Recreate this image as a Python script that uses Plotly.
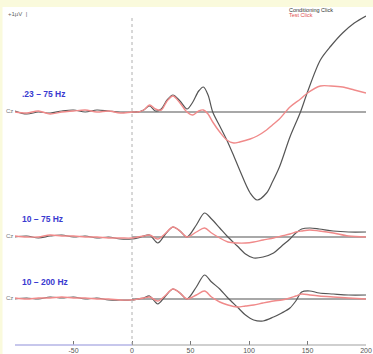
import plotly.graph_objects as go

# ---------------- data (µV, time in ms) ----------------
t_pre = [-100, -90, -80, -70, -60, -50, -40, -30, -20, -10]

t_top = t_pre + [0, 5, 10, 15, 20, 25, 30, 35, 41, 47, 52, 57, 61, 65, 69, 75, 81, 87, 92,
                 101, 107, 115, 120, 126, 135, 144, 150, 161, 170, 180, 190, 200]
cond_top = [0.05, -0.1, 0.0, -0.05, 0.05, 0.1, 0.0, 0.1, 0.05, 0.0,
            0.0, 0.0, 0.1, 0.3, 0.05, 0.15, 0.6, 0.85, 0.55, 0.15, 0.5, 1.05, 1.25, 0.85, 0.0,
            -0.7, -1.4, -2.2, -2.9, -4.05, -4.4, -4.05, -3.5, -2.75, -1.25, 0.0, 1.0, 2.6,
            3.3, 3.95, 4.45, 4.8]
test_top = [0.0, -0.05, 0.05, -0.1, 0.0, 0.05, 0.1, 0.0, 0.05, -0.05,
            0.0, 0.0, 0.1, 0.35, 0.15, 0.1, 0.55, 0.8, 0.45, 0.0, -0.15, 0.05, 0.1, -0.1,
            -0.5, -1.0, -1.4, -1.55, -1.5, -1.35, -1.2, -0.9, -0.65, -0.35, 0.25, 0.65, 0.95,
            1.3, 1.3, 1.25, 1.1, 0.95]

t_low = t_pre + [0, 5, 10, 15, 22, 28, 35, 41, 47, 55, 62, 68, 75, 82, 90, 97, 104, 112, 121,
                 128, 135, 140, 145, 152, 160, 172, 185, 200]
cond_mid = [0.0, 0.05, -0.05, 0.05, 0.1, 0.0, 0.05, -0.05, 0.0, -0.1,
            -0.1, -0.05, 0.05, 0.1, -0.3, 0.1, 0.5, 0.3, 0.0, 0.6, 1.2, 0.9, 0.45, 0.0, -0.45,
            -0.85, -1.05, -1.0, -0.8, -0.45, -0.1, 0.2, 0.4, 0.45, 0.4, 0.3, 0.25, 0.25]
test_mid = [0.05, 0.0, 0.0, 0.1, 0.05, 0.05, 0.0, 0.0, -0.05, -0.05,
            -0.05, 0.0, 0.05, 0.1, -0.1, 0.15, 0.5, 0.3, 0.0, 0.25, 0.45, 0.2, -0.05, -0.25,
            -0.3, -0.3, -0.25, -0.15, -0.05, 0.05, 0.15, 0.25, 0.3, 0.35, 0.3, 0.2, 0.05, 0.0]
cond_bot = [0.0, 0.05, 0.0, 0.1, 0.05, 0.1, 0.0, 0.05, -0.05, -0.05,
            -0.05, 0.0, 0.05, 0.15, -0.25, 0.1, 0.5, 0.3, 0.0, 0.6, 1.2, 0.85, 0.5, 0.05, -0.4,
            -0.8, -1.05, -1.1, -0.9, -0.7, -0.45, -0.1, 0.35, 0.4, 0.3, 0.25, 0.2, 0.2]
test_bot = [0.05, 0.0, 0.05, 0.05, 0.1, 0.05, 0.05, 0.0, 0.0, -0.05,
            -0.05, 0.0, 0.05, 0.1, -0.1, 0.15, 0.5, 0.3, 0.0, 0.2, 0.4, 0.1, -0.15, -0.3,
            -0.4, -0.35, -0.3, -0.2, -0.1, -0.05, 0.05, 0.15, 0.25, 0.2, 0.15, 0.1, 0.05, 0.0]

panel_labels = [".23 – 75 Hz", "10 – 75 Hz", "10 – 200 Hz"]
x_ticks = [-50, 0, 50, 100, 150, 200]
legend_names = ["Conditioning Click", "Test Click"]

# ---------------- layout geometry ----------------
W, H = 373, 354
ML, MR, MT, MB = 15, 7, 8, 9
PW, PH = W - ML - MR, H - MT - MB
Y_TOP = PH / 20.0          # 20 px per µV
offsets = [(H - MB - 112) / 20.0, (H - MB - 237) / 20.0, (H - MB - 299) / 20.0]


def px_x(x):
    return (x - ML) / PW


def px_y(y):
    return (H - MB - y) / PH


COND = "#555555"
TEST = "#f08a8a"

fig = go.Figure()
panels = [(t_top, cond_top, test_top), (t_low, cond_mid, test_mid), (t_low, cond_bot, test_bot)]
for (tt, c, r), off in zip(panels, offsets):
    fig.add_trace(go.Scatter(x=[0, 200], y=[off, off], mode="lines",
                             line=dict(color="#a8a8a8", width=1.8), hoverinfo="skip",
                             showlegend=False))
    fig.add_trace(go.Scatter(x=tt, y=[v + off for v in c], mode="lines",
                             line=dict(color=COND, width=1.2, shape="spline", smoothing=0.9),
                             showlegend=False))
    fig.add_trace(go.Scatter(x=tt, y=[v + off for v in r], mode="lines",
                             line=dict(color=TEST, width=1.4, shape="spline", smoothing=0.9),
                             showlegend=False))

shapes = [
    # yellow frame strips
    dict(type="rect", xref="paper", yref="paper", x0=px_x(0), x1=px_x(W), y0=px_y(7), y1=px_y(0),
         fillcolor="#fafadc", line=dict(width=0), layer="below"),
    dict(type="rect", xref="paper", yref="paper", x0=px_x(0), x1=px_x(2.5), y0=px_y(H), y1=px_y(7),
         fillcolor="#fafadc", line=dict(width=0), layer="below"),
    # stimulus onset dotted line
    dict(type="line", xref="x", yref="paper", x0=0, x1=0, y0=0, y1=px_y(18),
         line=dict(color="#b0b0b0", width=1, dash="dot")),
    # time axis line
    dict(type="line", xref="x", yref="paper", x0=-100, x1=0, y0=0, y1=0,
         line=dict(color="#b4b4e6", width=1.5)),
    dict(type="line", xref="x", yref="paper", x0=0, x1=200, y0=0, y1=0,
         line=dict(color="#a0a0a0", width=1.2)),
]

annotations = []
for lab, yy in zip(panel_labels, [94, 219, 282]):
    annotations.append(dict(text=f"<b>{lab}</b>", xref="paper", yref="paper",
                            x=px_x(20), y=px_y(yy), xanchor="left", yanchor="middle",
                            showarrow=False, font=dict(family="Arial", size=8.5, color="#3a3ad0")))
for yy in [112, 237, 299]:
    annotations.append(dict(text="Cz", xref="paper", yref="paper", x=px_x(4), y=px_y(yy - 1),
                            xanchor="left", yanchor="middle", showarrow=False,
                            font=dict(family="Arial", size=6, color="#777777")))
annotations.append(dict(text="+1µV  |", xref="paper", yref="paper", x=px_x(6), y=px_y(14),
                        xanchor="left", yanchor="middle", showarrow=False,
                        font=dict(family="Arial", size=6, color="#666666")))
annotations.append(dict(text=legend_names[0], xref="paper", yref="paper", x=px_x(287), y=px_y(10.5),
                        xanchor="left", yanchor="middle", showarrow=False,
                        font=dict(family="Arial", size=5.5, color="#333333")))
annotations.append(dict(text=legend_names[1], xref="paper", yref="paper", x=px_x(287), y=px_y(15),
                        xanchor="left", yanchor="middle", showarrow=False,
                        font=dict(family="Arial", size=5.5, color="#e05050")))

fig.update_layout(
    width=W, height=H,
    margin=dict(l=ML, r=MR, t=MT, b=MB, pad=0),
    paper_bgcolor="white", plot_bgcolor="white",
    shapes=shapes, annotations=annotations,
    xaxis=dict(range=[-100, 200], tickvals=x_ticks, ticktext=[str(v) for v in x_ticks],
               ticks="inside", ticklen=4, tickwidth=1, tickcolor="#777777",
               tickfont=dict(family="Arial", size=7, color="#555555"),
               showgrid=False, zeroline=False, showline=False, automargin=False,
               fixedrange=True),
    yaxis=dict(range=[0, Y_TOP], visible=False, fixedrange=True),
    showlegend=False,
)

fig.write_html("out.html", config={"displayModeBar": False},
               post_script="document.body.style.margin='0';document.body.style.overflow='hidden';")
